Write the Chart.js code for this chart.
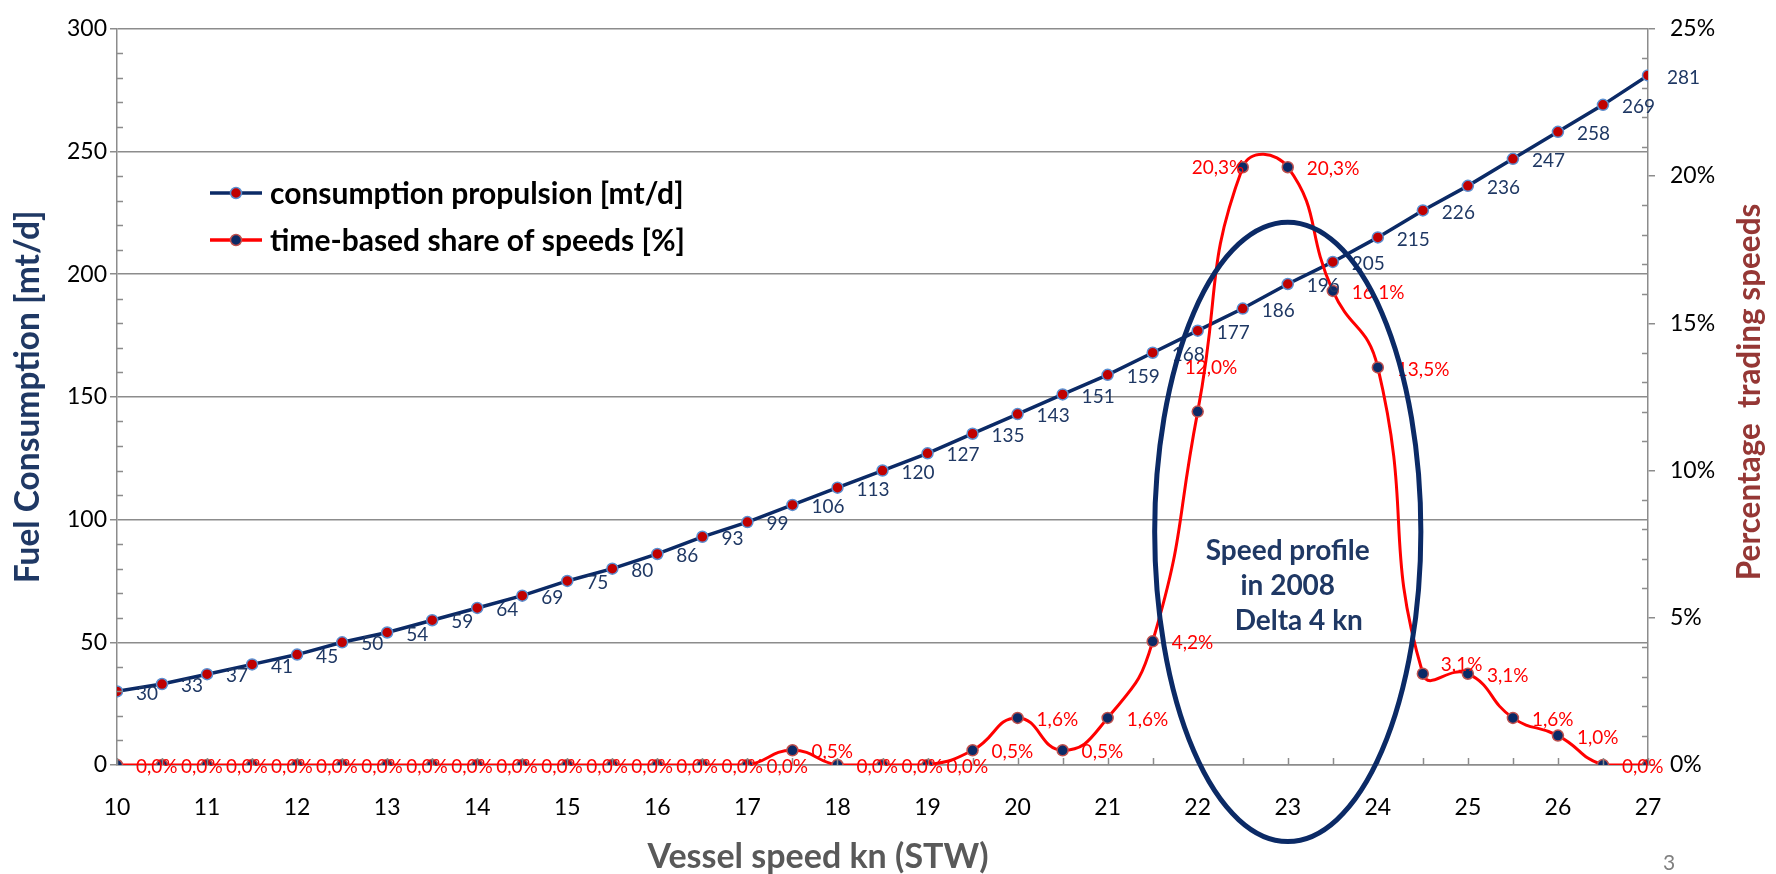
<!DOCTYPE html>
<html>
<head>
<meta charset="utf-8">
<title>Fuel consumption and speed profile</title>
<script src="https://cdn.jsdelivr.net/npm/chart.js@4.4.0/dist/chart.umd.min.js"></script>
<style>
  html, body { margin: 0; padding: 0; background: #fff; }
  #wrap { position: relative; width: 1776px; height: 874px; }
</style>
</head>
<body>
<div id="wrap"><canvas id="chart"></canvas></div>
<script>
// vessel speed through water [kn], one point every half knot
const speeds = [10, 10.5, 11, 11.5, 12, 12.5, 13, 13.5, 14, 14.5, 15, 15.5, 16, 16.5, 17, 17.5,
    18, 18.5, 19, 19.5, 20, 20.5, 21, 21.5, 22, 22.5, 23, 23.5, 24, 24.5, 25, 25.5, 26, 26.5, 27];
// propulsion fuel consumption [mt/d]
const consumption = [30, 33, 37, 41, 45, 50, 54, 59, 64, 69, 75, 80, 86, 93, 99, 106,
    113, 120, 127, 135, 143, 151, 159, 168, 177, 186, 196, 205, 215, 226, 236, 247, 258, 269, 281];
// time-based share of each speed [%]
const speedShare = [0, 0, 0, 0, 0, 0, 0, 0, 0, 0, 0, 0, 0, 0, 0, 0.5,
    0, 0, 0, 0.5, 1.6, 0.5, 1.6, 4.2, 12.0, 20.3, 20.3, 16.1, 13.5, 3.1, 3.1, 1.6, 1.0, 0, 0];

const speedTicks = [10, 11, 12, 13, 14, 15, 16, 17, 18, 19, 20, 21, 22, 23, 24, 25, 26, 27];
const fuelTicks = [0, 50, 100, 150, 200, 250, 300];
const shareTicks = [0, 5, 10, 15, 20, 25];

// the 2008 speed profile band (kn) and its vertical extent (mt/d)
const profileSpeed = [21.5, 24.5];
const profileFuel = [-32, 222];
const profileNote = ['Speed profile', 'in 2008', 'Delta 4 kn'];
const noteShift = [0, 0, 11];

const NAVY = '#0b2a66';
const TITLE_NAVY = '#1f3864';
const RED = '#ff0000';
const GRID = '#8c8c8c';

// label nudges around the peak (dx from point, dy)
const shareNudge = { 24: [-13, -44], 25: [-51, 1], 29: [18, -9] };

function fmtShare(v) {
    return v.toFixed(1).replace('.', ',') + '%';
}

const extras = {
    id: 'extras',
    afterDatasetsDraw(chart) {
        const ctx = chart.ctx;
        const x = chart.scales.x, y = chart.scales.y, y1 = chart.scales.y1;
        const area = chart.chartArea;

        ctx.save();
        // minor tick marks, pointing into the plot
        ctx.strokeStyle = GRID;
        ctx.lineWidth = 1.5;
        ctx.beginPath();
        for (let v = 10; v < 300; v += 10) {
            if (v % 50 === 0) continue;
            const py = Math.round(y.getPixelForValue(v)) + 0.5;
            ctx.moveTo(area.left, py);
            ctx.lineTo(area.left + 6, py);
        }
        for (let v = 1; v < 25; v++) {
            if (v % 5 === 0) continue;
            const py = Math.round(y1.getPixelForValue(v)) + 0.5;
            ctx.moveTo(area.right - 6, py);
            ctx.lineTo(area.right, py);
        }
        speeds.forEach(s => {
            const px = Math.round(x.getPixelForValue(s)) + 0.5;
            ctx.moveTo(px, area.bottom);
            ctx.lineTo(px, area.bottom - 7);
        });
        ctx.stroke();

        // value labels
        ctx.font = '19px Lato';
        ctx.textBaseline = 'middle';
        ctx.textAlign = 'left';
        const m0 = chart.getDatasetMeta(0);
        ctx.fillStyle = TITLE_NAVY;
        m0.data.forEach((pt, i) => {
            ctx.fillText(String(consumption[i]), pt.x + 19, pt.y + 2);
        });
        const m1 = chart.getDatasetMeta(1);
        ctx.fillStyle = RED;
        m1.data.forEach((pt, i) => {
            if (i === speedShare.length - 1) return;
            const n = shareNudge[i] || [19, 2];
            ctx.fillText(fmtShare(speedShare[i]), pt.x + n[0], pt.y + n[1]);
        });

        // ellipse around the 2008 speed profile
        const ex0 = x.getPixelForValue(profileSpeed[0]);
        const ex1 = x.getPixelForValue(profileSpeed[1]);
        const ey0 = y.getPixelForValue(profileFuel[1]);
        const ey1 = y.getPixelForValue(profileFuel[0]);
        ctx.strokeStyle = NAVY;
        ctx.lineWidth = 5;
        ctx.beginPath();
        ctx.ellipse((ex0 + ex1) / 2, (ey0 + ey1) / 2, (ex1 - ex0) / 2 - 2, (ey1 - ey0) / 2 - 2, 0, 0, Math.PI * 2);
        ctx.stroke();

        ctx.fillStyle = TITLE_NAVY;
        ctx.font = 'bold 28px Lato';
        ctx.textAlign = 'center';
        const noteX = (ex0 + ex1) / 2;
        const noteY = y.getPixelForValue(73);
        profileNote.forEach((line, k) => {
            ctx.fillText(line, noteX + noteShift[k], noteY + (k - 1) * 35);
        });

        // legend inside the plot
        const lx = area.left + 93;
        const rows = [
            { text: 'consumption propulsion [mt/d]', line: NAVY, fill: '#c00000', edge: '#5b8fd0', y: 193 },
            { text: 'time-based share of speeds [%]', line: RED, fill: NAVY, edge: '#c0504d', y: 240 }
        ];
        ctx.font = 'bold 30px Lato';
        ctx.textAlign = 'left';
        rows.forEach(r => {
            ctx.strokeStyle = r.line;
            ctx.lineWidth = 3.5;
            ctx.beginPath();
            ctx.moveTo(lx, r.y);
            ctx.lineTo(lx + 52, r.y);
            ctx.stroke();
            ctx.beginPath();
            ctx.arc(lx + 26, r.y, 5.5, 0, Math.PI * 2);
            ctx.fillStyle = r.fill;
            ctx.fill();
            ctx.lineWidth = 1.5;
            ctx.strokeStyle = r.edge;
            ctx.stroke();
            ctx.fillStyle = '#000';
            ctx.fillText(r.text, lx + 60, r.y + 1);
        });

        // right axis title, reading upwards
        ctx.save();
        ctx.translate(1750, (area.top + area.bottom) / 2 - 5);
        ctx.rotate(-Math.PI / 2);
        ctx.textAlign = 'center';
        ctx.font = 'bold 31.5px Lato';
        ctx.fillStyle = '#953735';
        ctx.fillText('Percentage  trading speeds', 0, 0);
        ctx.restore();

        // x axis title and page number
        ctx.textAlign = 'center';
        ctx.font = 'bold 34px Lato';
        ctx.fillStyle = '#595959';
        ctx.fillText('Vessel speed kn (STW)', 818, 857);
        ctx.font = '21px Lato';
        ctx.fillStyle = '#7f7f7f';
        ctx.fillText('3', 1669, 863);
        ctx.restore();
    }
};

function draw() {
    Chart.defaults.font.family = 'Lato';
    new Chart(document.getElementById('chart'), {
        type: 'line',
        data: {
            datasets: [
                {
                    label: 'consumption propulsion [mt/d]',
                    data: speeds.map((s, i) => ({ x: s, y: consumption[i] })),
                    yAxisID: 'y',
                    borderColor: NAVY,
                    borderWidth: 3.5,
                    tension: 0,
                    pointRadius: 5.5,
                    pointBackgroundColor: '#c00000',
                    pointBorderColor: '#5b8fd0',
                    pointBorderWidth: 1.5,
                    order: 1
                },
                {
                    label: 'time-based share of speeds [%]',
                    data: speeds.map((s, i) => ({ x: s, y: speedShare[i] })),
                    yAxisID: 'y1',
                    borderColor: RED,
                    borderWidth: 3,
                    tension: 0.5,
                    pointRadius: 5.5,
                    pointBackgroundColor: NAVY,
                    pointBorderColor: '#c0504d',
                    pointBorderWidth: 1.5,
                    order: 0
                }
            ]
        },
        options: {
            responsive: true,
            maintainAspectRatio: false,
            animation: false,
            events: [],
            layout: { padding: { top: 19, left: 0, right: 0, bottom: 0 } },
            plugins: {
                legend: { display: false },
                tooltip: { enabled: false }
            },
            scales: {
                x: {
                    type: 'linear',
                    min: 10,
                    max: 27,
                    afterBuildTicks: s => { s.ticks = speedTicks.map(v => ({ value: v })); },
                    afterFit: s => { s.height = 109; },
                    grid: { display: false },
                    border: { display: true, color: GRID, width: 1.5 },
                    ticks: { color: '#000', font: { size: 23 }, padding: 21, maxRotation: 0, autoSkip: false }
                },
                y: {
                    position: 'left',
                    min: 0,
                    max: 300,
                    afterBuildTicks: s => { s.ticks = fuelTicks.map(v => ({ value: v })); },
                    afterFit: s => { s.width = 117; },
                    grid: { color: GRID, lineWidth: 1.5, drawTicks: true, tickLength: 7 },
                    border: { color: GRID, width: 1.5 },
                    ticks: { color: '#000', font: { size: 23 }, padding: 3 },
                    title: {
                        display: true,
                        text: 'Fuel Consumption [mt/d]',
                        color: TITLE_NAVY,
                        font: { size: 33.5, weight: 'bold' },
                        padding: { top: 8, bottom: 0 }
                    }
                },
                y1: {
                    position: 'right',
                    min: 0,
                    max: 25,
                    afterBuildTicks: s => { s.ticks = shareTicks.map(v => ({ value: v })); },
                    afterFit: s => { s.width = 128; },
                    grid: { drawOnChartArea: false, color: GRID, lineWidth: 1.5, drawTicks: true, tickLength: 7 },
                    border: { color: GRID, width: 1.5 },
                    ticks: { color: '#000', font: { size: 23 }, padding: 15, callback: v => v + '%' }
                }
            }
        },
        plugins: [extras]
    });
}

if (document.fonts && document.fonts.load) {
    Promise.all([
        document.fonts.load('23px Lato'),
        document.fonts.load('bold 30px Lato')
    ]).then(draw, draw);
} else {
    draw();
}
</script>
</body>
</html>
